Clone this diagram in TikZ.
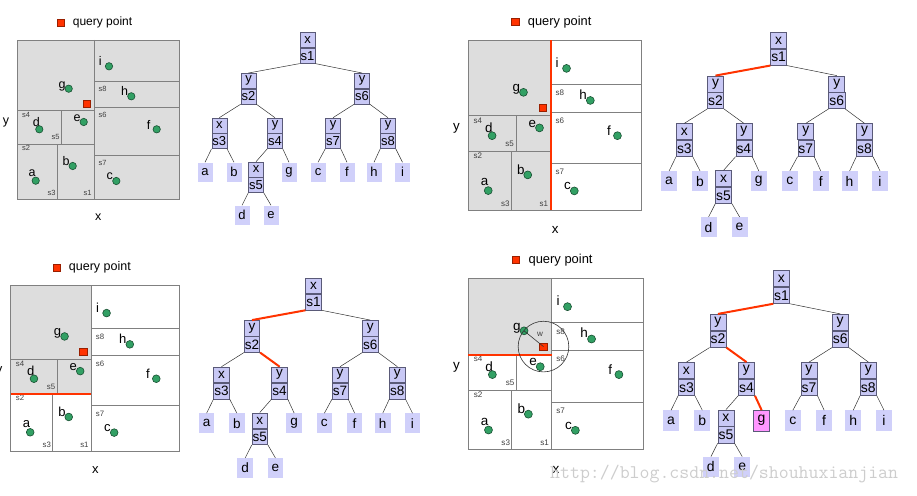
\documentclass[tikz,border=0pt]{standalone}
\usepackage{fontspec}
\setmainfont{Liberation Sans}
\usetikzlibrary{positioning}

\definecolor{shadegray}{RGB}{221,221,221}
\definecolor{gridgray}{RGB}{128,128,128}
\definecolor{hotred}{RGB}{255,51,0}
\definecolor{dotgreen}{RGB}{50,160,100}
\definecolor{dotedge}{RGB}{25,80,50}
\definecolor{nodefill}{RGB}{200,200,245}
\definecolor{leaffill}{RGB}{208,208,250}
\definecolor{nodeline}{RGB}{90,90,120}
\definecolor{hitpink}{RGB}{255,150,255}
\definecolor{markgray}{RGB}{205,205,205}

\tikzset{
  grid/.style={draw=gridgray, line width=0.8pt},
  hot/.style={draw=hotred, line width=2pt},
  dot/.style={circle, fill=dotgreen, draw=dotedge, line width=0.6pt, minimum size=7.4pt, inner sep=0pt},
  qsq/.style={rectangle, fill=hotred, draw=hotred!60!black, line width=0.4pt, minimum size=7pt, inner sep=0pt},
  ptlabel/.style={inner sep=0pt, font=\fontsize{12.5}{14}\selectfont},
  slabel/.style={inner sep=0pt, text=black!75, font=\fontsize{7.5}{9}\selectfont},
  cell/.style={rectangle, draw=nodeline, fill=nodefill, line width=0.6pt, minimum width=15pt, minimum height=15pt, inner sep=0pt, font=\fontsize{13}{15}\selectfont},
  leaf/.style={rectangle, fill=leaffill, minimum width=15pt, minimum height=19pt, inner sep=0pt, font=\fontsize{13}{15}\selectfont},
  gleaf/.style={leaf},
  edge/.style={draw=black!80, line width=0.5pt},
  ring/.style={draw=black!80, line width=0.6pt},
}

% one panel: the subdivided plane and its kd-tree, #1 = corner of the shaded cell
\newcommand{\kdpanel}[1]{%
  % plane
  \fill[shadegray] (17,40) rectangle #1;
  \draw[grid] (17,40) rectangle (179,199);
  \draw[grid] (94.3,40) -- (94.3,199);       % s1
  \draw[grid] (17,144.3) -- (94.3,144.3);    % s2
  \draw[grid] (57.3,144.3) -- (57.3,199);    % s3
  \draw[grid] (17,110.7) -- (94.3,110.7);    % s4
  \draw[grid] (61.7,110.7) -- (61.7,144.3);  % s5
  \draw[grid] (94.3,107.3) -- (179,107.3);   % s6
  \draw[grid] (94.3,155) -- (179,155);       % s7
  \draw[grid] (94.3,81) -- (179,81);         % s8
  \foreach \s/\x/\y in {s1/87.7/192.7, s2/26/147.7, s3/51.7/192.7, s4/26/115,
                        s5/55.7/137.3, s6/102.7/115, s7/102.7/163.3, s8/102.7/89.3}
    \node[slabel] (lab-\s) at (\x,\y) {\s};
  \foreach \n/\px/\py/\lx/\ly in {i/109/66.3/100.3/61, g/68.7/88.7/62/86,
      h/131.3/96.3/124.5/90.8, d/39.3/129.3/36.3/121.7, e/83.7/122/77/118,
      f/156.7/129.3/148.7/124.5, b/72.7/166/66.2/161.2, a/35.7/180.7/32.2/173,
      c/116.3/181/109.8/176.5} {
    \node[ptlabel] (lbl-\n) at (\lx,\ly) {\n};
    \node[dot] (pt-\n) at (\px,\py) {};
  }
  \node[qsq] (q) at (86.7,103.3) {};
  \node[ptlabel] (xlab) at (98.3,217.3) {x};
  \node[ptlabel] (ylab) at (6,122.7) {y};
  % legend
  \node[qsq] (legend-sq) at (61,22.7) {};
  \node[ptlabel, font=\fontsize{12}{14}\selectfont, right=8pt of legend-sq] (legend-txt) {query point};
  % tree
  \foreach \n/\ax/\x/\y in {s1/x/307.5/47.7, s2/y/248.5/88.3, s6/y/362/88.3,
      s3/x/219.3/133, s4/y/275/133, s7/y/333/133, s8/y/388/133, s5/x/256/177} {
    \node[cell] (\n) at (\x,\y-7.5) {\ax};
    \node[cell, below=0pt of \n] (\n-b) {\n};
  }
  \foreach \n/\x/\y in {a/205/172, b/234/172, c/318/172, f/347/172,
                        h/374/172, i/402.5/172, d/242/215, e/271/215}
    \node[leaf] (leaf-\n) at (\x,\y) {\n};
  \node[gleaf] (leaf-g) at (289,172) {g};
  \foreach \p/\c/\side in {s1/s2/west, s1/s6/east, s2/s3/west, s2/s4/east,
      s6/s7/west, s6/s8/east, s3/leaf-a/west, s3/leaf-b/east, s4/s5/west,
      s4/leaf-g/east, s7/leaf-c/west, s7/leaf-f/east, s8/leaf-h/west,
      s8/leaf-i/east, s5/leaf-d/west, s5/leaf-e/east}
    \draw[edge] (\p-b.south \side) -- (\c.north);
}

\begin{document}
\begin{tikzpicture}[x=1pt, y=-1pt]
  \useasboundingbox (0,0) rectangle (917,495);

  % panel 1
  \begin{scope}[transform shape]
    \kdpanel{(179,199)}
  \end{scope}

  % panel 2
  \begin{scope}[shift={(450.1,-2.4)}, scale=1.068, transform shape]
    \kdpanel{(94.3,199)}
    \draw[hot] (94.3,40) -- (94.3,199);
    \draw[hot] (s1-b.south west) -- (s2.north);
  \end{scope}

  % panel 3
  \begin{scope}[shift={(-7,244)}, scale=1.042, transform shape]
    \kdpanel{(94.3,144.3)}
    \draw[hot] (17,144.3) -- (94.3,144.3);
    \draw[hot] (s1-b.south west) -- (s2.north);
    \draw[hot] (s2-b.south east) -- (s4.north);
  \end{scope}

  % panel 4
  \begin{scope}[shift={(450,235.2)}, scale=1.078, transform shape,
                gleaf/.style={leaf, fill=hitpink, draw=nodeline, line width=0.6pt}]
    \kdpanel{(94.3,110.7)}
    \draw[hot] (17,110.7) -- (94.3,110.7);
    \draw[hot] (s1-b.south west) -- (s2.north);
    \draw[hot] (s2-b.south east) -- (s4.north);
    \draw[hot] (s4-b.south east) -- (leaf-g.north);
    \draw[ring] (q) circle[radius=23.5];
    \draw[ring] (pt-g.center) -- (q.center);
    \node[slabel] (wlab) at (83.5,91.9) {w};
  \end{scope}

  \node[anchor=base west, inner sep=0pt, text=markgray,
        font=\ttfamily\fontsize{19.3}{22}\selectfont] (mark) at (550,478)
        {http://blog.csdn.net/shouhuxianjian};
\end{tikzpicture}
\end{document}
